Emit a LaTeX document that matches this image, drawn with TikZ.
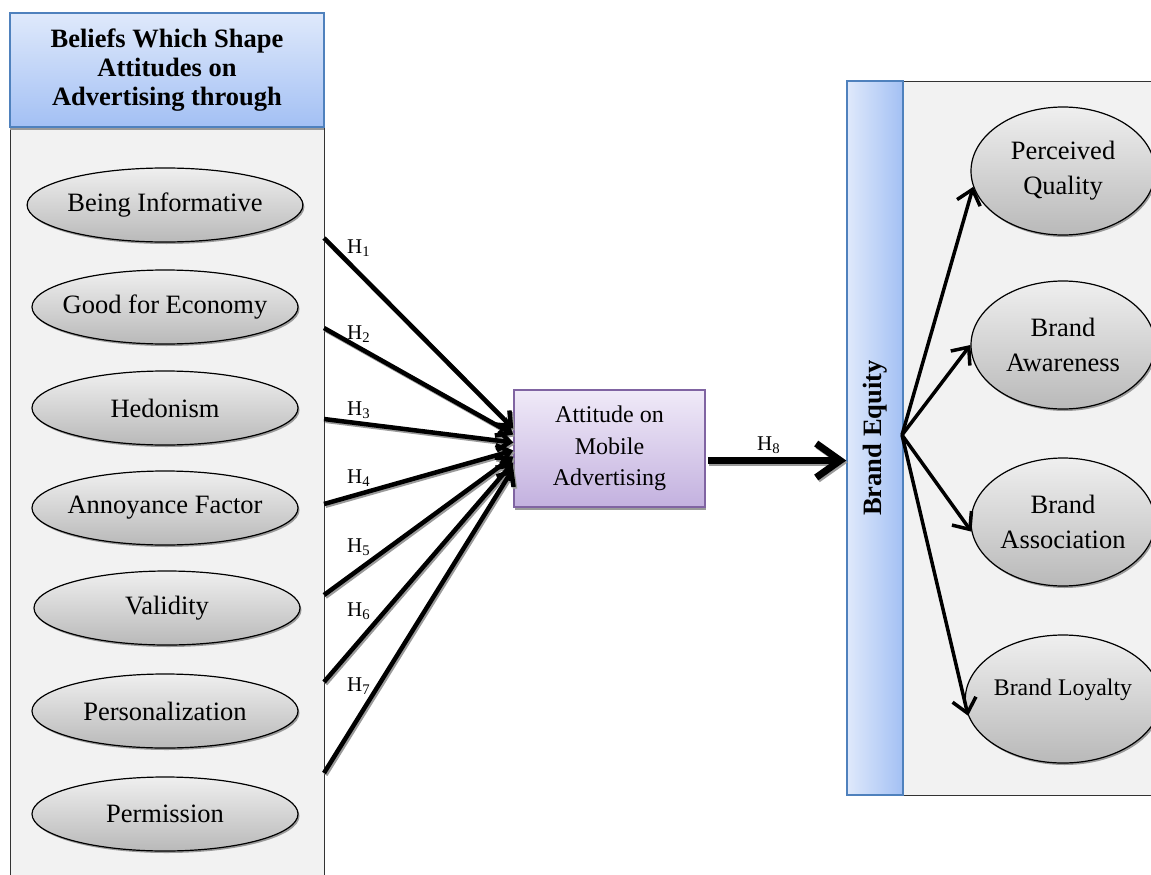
\documentclass[tikz,border=0pt]{standalone}
\usepackage{fontspec}
\setmainfont{Liberation Serif}
\usetikzlibrary{arrows.meta,shadows,calc,shapes.geometric}
\definecolor{panelgray}{HTML}{F2F2F2}
\definecolor{blueedge}{HTML}{4F81BD}
\definecolor{bluelight}{HTML}{DFE9FB}
\definecolor{bluedark}{HTML}{A3C0F4}
\definecolor{purpedge}{HTML}{8064A2}
\definecolor{purplight}{HTML}{F0EAF8}
\definecolor{purpdark}{HTML}{C3B1DF}
\definecolor{elltop}{HTML}{EFEFEF}
\definecolor{ellbot}{HTML}{B9B9B9}
\definecolor{shadowgray}{HTML}{9A9A9A}
\tikzset{
  panelbox/.style={fill=panelgray, draw=black!80, line width=1pt},
  belief/.style={ellipse, draw=black, line width=1.2pt, top color=elltop, bottom color=ellbot,
    minimum width=266pt, minimum height=74pt, inner sep=0pt,
    font=\fontsize{26.5}{30}\selectfont,
    drop shadow={shadow xshift=1.5pt, shadow yshift=-2pt, fill=shadowgray, opacity=1}},
  dimension/.style={belief, minimum width=184pt, minimum height=128pt, align=center,
    font=\fontsize{26.5}{35}\selectfont},
  headerbox/.style={rectangle, draw=blueedge, line width=1.5pt, top color=bluelight, bottom color=bluedark,
    minimum width=314pt, minimum height=114pt, align=center, inner sep=0pt,
    font=\fontsize{26.5}{29}\selectfont\bfseries,
    drop shadow={shadow xshift=0pt, shadow yshift=-2.5pt, fill=shadowgray, opacity=1}},
  attbox/.style={rectangle, draw=purpedge, line width=1.5pt, top color=purplight, bottom color=purpdark,
    minimum width=191pt, minimum height=117pt, align=center, inner sep=0pt,
    font=\fontsize{24}{31.5}\selectfont,
    drop shadow={shadow xshift=1pt, shadow yshift=-2.5pt, fill=shadowgray, opacity=1}},
  eqbar/.style={rectangle, draw=blueedge, line width=1.5pt, left color=bluelight, right color=bluedark,
    minimum width=56pt, minimum height=714pt, inner sep=0pt,
    font=\fontsize{26.5}{30}\selectfont\bfseries},
  hlabel/.style={anchor=west, inner sep=0pt, font=\fontsize{21}{24}\selectfont},
  leftarrow/.style={line width=4.5pt, -{Straight Barb[length=12pt,width=20pt]}},
  mainarrow/.style={line width=7pt, -{Straight Barb[length=24pt,width=34pt]}},
  rightarrow/.style={line width=3.5pt, -{Straight Barb[length=14pt,width=24pt]}},
}
\begin{document}
\begin{tikzpicture}[x=1pt,y=-1pt]
\useasboundingbox (0,0) rectangle (1151,875);
\clip (0,0) rectangle (1151,875);
\fill[white] (0,0) rectangle (1151,875);

% panels
\draw[panelbox] (10,127) rectangle (324,900);
\draw[panelbox] (903,81) rectangle (1175,795);

\node[headerbox] (hdr) at (167,70) {Beliefs Which Shape\\Attitudes on\\Advertising through};

% belief ellipses
\node[belief] (b1) at (165,205) {Being Informative};
\node[belief] (b2) at (165,307) {\makebox[170pt]{Good for Economy}};
\node[belief] (b3) at (165,408) {Hedonism};
\node[belief] (b4) at (165,508) {\makebox[170pt]{Annoyance Factor}};
\node[belief] (b5) at (167,608) {Validity};
\node[belief] (b6) at (165,711) {Personalization};
\node[belief] (b7) at (165,814) {Permission};

\node[attbox] (att) at (609.5,448.5) {Attitude on\\Mobile\\Advertising};

\node[eqbar] (be) at (875,438) {\rotatebox{90}{Brand Equity}};

% brand equity dimensions
\node[dimension] (pq) at (1063,171) {Perceived\\Quality};
\node[dimension] (ba) at (1063,345) {Brand\\Awareness};
\node[dimension] (bas) at (1063,522) {Brand\\Association};
\node[dimension, font=\fontsize{23.8}{28}\selectfont] (bl) at (1063,699) {\raisebox{24pt}{Brand Loyalty}};

% start coordinates of hypotheses
\coordinate (s1) at (324,238);
\coordinate (s2) at (324,328);
\coordinate (s3) at (324,419);
\coordinate (s4) at (324,504);
\coordinate (s5) at (324,595);
\coordinate (s6) at (324,682);
\coordinate (s7) at (324,773);
\coordinate (h8s) at ($(att.east)+(2,12)$);
\coordinate (src) at (902,435);

% connector shadows
\begin{scope}[transform canvas={shift={(1.5pt,-1.8pt)}}]
  \foreach \i/\e in {1/20,2/14,3/6,4/-2,5/-8,6/-14,7/-20}
    \draw[leftarrow, draw=shadowgray] (s\i) -- ([yshift=\e pt]att.west);
  \draw[mainarrow, draw=shadowgray] (h8s) -- (h8s -| be.west);
\end{scope}

% connectors
\foreach \i/\e in {1/20,2/14,3/6,4/-2,5/-8,6/-14,7/-20}
  \draw[leftarrow] (s\i) -- ([yshift=\e pt]att.west);
\draw[mainarrow] (h8s) -- (h8s -| be.west);

\draw[rightarrow] (src) -- (pq.190);
\draw[rightarrow] (src) -- (ba.180);
\draw[rightarrow] (src) -- (bas.186);
\draw[rightarrow] (src) -- (bl.190);

% labels
\node[hlabel] (l1) at (347,248) {H\textsubscript{1}};
\node[hlabel] (l2) at (347,334) {H\textsubscript{2}};
\node[hlabel] (l3) at (347,410) {H\textsubscript{3}};
\node[hlabel] (l4) at (347,478) {H\textsubscript{4}};
\node[hlabel] (l5) at (347,547) {H\textsubscript{5}};
\node[hlabel] (l6) at (347,611) {H\textsubscript{6}};
\node[hlabel] (l7) at (347,686) {H\textsubscript{7}};
\node[hlabel] (l8) at (757,445) {H\textsubscript{8}};
\end{tikzpicture}
\end{document}
